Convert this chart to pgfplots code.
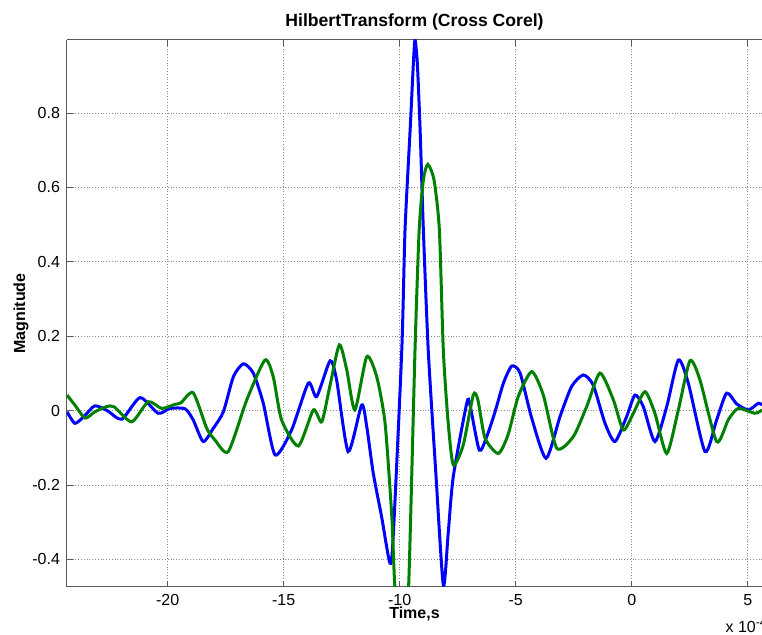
\documentclass[border=0pt]{standalone}
\usepackage{fontspec}
\setmainfont{Liberation Sans}
\usepackage{pgfplots}
\pgfplotsset{compat=1.18}
\definecolor{mblue}{rgb}{0,0,1}
\definecolor{mgreen}{rgb}{0,0.5,0}
\begin{document}
\begin{tikzpicture}
\begin{axis}[
  at={(33.5pt,24pt)}, anchor=south west,
  scale only axis, width=347.5pt, height=273.5pt,
  xmin=-24.34, xmax=5.616, ymin=-0.474, ymax=0.9965,
  axis x line*=box, axis y line*=left,
  axis line style={-, black!65, line width=0.5pt},
  xtick={-20,-15,-10,-5,0,5},
  xticklabels={-20,-15,-10,-5,0,5},
  ytick={-0.4,-0.2,0,0.2,0.4,0.6,0.8},
  yticklabels={-0.4,-0.2,0,0.2,0.4,0.6,0.8},
  tick style={black!65, line width=0.5pt},
  major tick length=3pt,
  tick label style={font=\fontsize{8}{9.6}\selectfont},
  grid=major,
  grid style={densely dotted, black!45, line width=0.4pt},
  xlabel={\bfseries Time,s},
  xlabel style={font=\fontsize{8}{9.6}\selectfont, at={(axis description cs:0.5,-0.0567)}, anchor=base},
  ylabel={\bfseries Magnitude},
  ylabel style={font=\fontsize{8}{9.6}\selectfont, at={(axis description cs:-0.0604,0.5)}, anchor=base, rotate=0},
  clip mode=individual,
]
\addplot[mblue, line width=1.5pt, smooth, tension=0.4] coordinates {
(-24.34,-0.003) (-24.0,-0.034) (-23.6,-0.015) (-23.14,0.013) (-22.6,0.0) (-21.98,-0.023) (-21.19,0.035) (-20.41,-0.007) (-19.90,0.006) (-19.25,0.005) (-18.9,-0.025) (-18.47,-0.083) (-18.03,-0.047) (-17.60,-0.003) (-17.17,0.091) (-16.74,0.126) (-16.31,0.101) (-15.88,0.020) (-15.37,-0.119) (-14.66,-0.052) (-13.94,0.074) (-13.58,0.038) (-13.00,0.134) (-12.72,0.083) (-12.22,-0.110) (-11.64,0.015) (-11.42,-0.043) (-11.14,-0.168) (-10.78,-0.285) (-10.42,-0.410) (-10.28,-0.339) (-9.91,0.163) (-9.77,0.486) (-9.55,0.755) (-9.41,0.934) (-9.34,0.997) (-9.24,0.934) (-9.12,0.755) (-8.98,0.486) (-8.77,0.163) (-8.45,-0.16) (-8.12,-0.469) (-7.91,-0.33) (-7.69,-0.177) (-7.11,0.020) (-6.97,0.015) (-6.57,-0.106) (-6.25,-0.070) (-5.89,-0.003) (-5.53,0.074) (-5.17,0.120) (-4.81,0.101) (-4.31,-0.020) (-3.69,-0.128) (-3.09,-0.016) (-2.59,0.065) (-2.09,0.096) (-1.66,0.069) (-1.15,-0.034) (-0.72,-0.083) (-0.22,-0.016) (0.14,0.042) (0.50,0.011) (1.00,-0.083) (1.51,0.011) (2.01,0.136) (2.44,0.074) (3.16,-0.110) (3.66,-0.025) (4.09,0.047) (4.53,0.018) (5.03,0.002) (5.46,0.020) (5.62,0.015)
};
\addplot[mgreen, line width=1.5pt, smooth, tension=0.4] coordinates {
(-24.34,0.042) (-24.0,0.015) (-23.56,-0.020) (-23.14,-0.003) (-22.63,0.011) (-22.3,0.010) (-21.55,-0.030) (-20.84,0.024) (-20.26,0.006) (-19.69,0.017) (-19.43,0.021) (-18.90,0.048) (-18.32,-0.047) (-17.96,-0.079) (-17.39,-0.110) (-16.59,0.029) (-15.81,0.136) (-15.45,0.091) (-15.09,-0.025) (-14.37,-0.095) (-13.72,0.002) (-13.36,-0.030) (-13.00,0.069) (-12.60,0.177) (-12.28,0.109) (-11.93,0.002) (-11.42,0.145) (-10.99,0.091) (-10.63,-0.034) (-10.34,-0.285) (-10.20,-0.48) (-9.88,-0.64) (-9.62,-0.48) (-9.34,0.163) (-9.16,0.486) (-8.98,0.62) (-8.79,0.662) (-8.52,0.62) (-8.29,0.486) (-8.12,0.163) (-7.92,-0.025) (-7.69,-0.146) (-7.26,-0.092) (-6.83,0.042) (-6.63,0.029) (-6.32,-0.074) (-5.75,-0.115) (-5.33,-0.065) (-4.89,0.038) (-4.31,0.105) (-3.81,0.042) (-3.23,-0.101) (-2.52,-0.070) (-1.94,0.011) (-1.37,0.101) (-0.79,0.029) (-0.36,-0.052) (0.07,-0.007) (0.57,0.051) (1.00,-0.007) (1.51,-0.115) (2.01,0.002) (2.51,0.134) (2.94,0.083) (3.66,-0.083) (4.16,-0.025) (4.59,0.006) (5.31,-0.007) (5.62,0.002)
};
\node[anchor=base, font=\fontsize{8.8}{10}\bfseries, inner sep=0pt] at (axis description cs:0.5,1.0238) {HilbertTransform (Cross Corel)};
\node[anchor=base west, font=\fontsize{8}{9.6}\selectfont, inner sep=0pt] at (axis description cs:0.947,-0.0830) {x 10\textsuperscript{-4}};
\end{axis}
\pgfresetboundingbox
\useasboundingbox (0,0) rectangle (381pt,317.5pt);
\end{tikzpicture}
\end{document}
